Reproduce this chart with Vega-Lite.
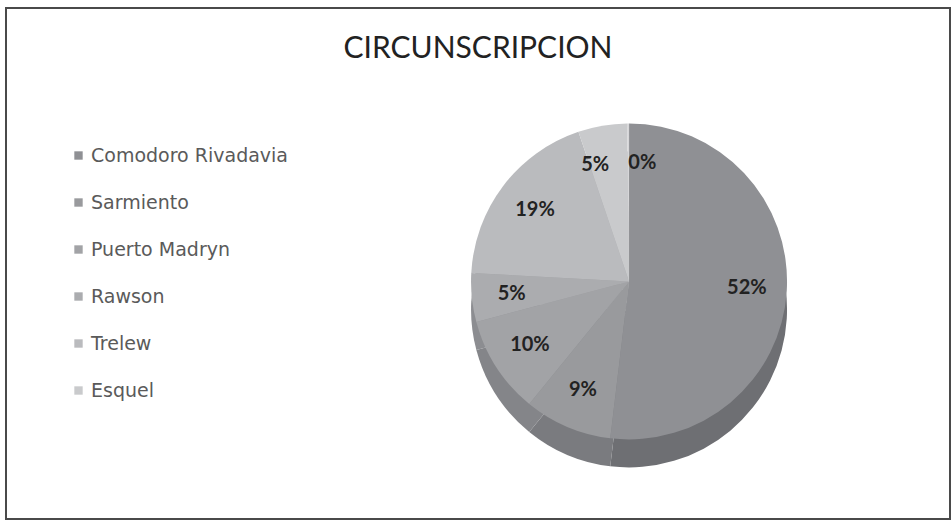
{
  "$schema": "https://vega.github.io/schema/vega-lite/v6.json",
  "width": 952,
  "height": 525,
  "autosize": {"type": "fit", "contains": "padding"},
  "padding": {"top": 8, "left": 6, "right": 2, "bottom": 6},
  "background": "white",
  "view": {"stroke": "#4a4a4a", "strokeWidth": 2, "fill": "white"},
  "title": {
    "text": "CIRCUNSCRIPCION",
    "anchor": "middle",
    "offset": -56,
    "fontSize": 30,
    "font": "Lato",
    "fontWeight": "normal",
    "color": "#222222"
  },
  "data": {
    "values": [
      {"circunscripcion": "Comodoro Rivadavia", "pct": 52, "label": "52%", "orden": 1},
      {"circunscripcion": "Sarmiento", "pct": 9, "label": "9%", "orden": 2},
      {"circunscripcion": "Puerto Madryn", "pct": 10, "label": "10%", "orden": 3},
      {"circunscripcion": "Rawson", "pct": 5, "label": "5%", "orden": 4},
      {"circunscripcion": "Trelew", "pct": 19, "label": "19%", "orden": 5},
      {"circunscripcion": "Esquel", "pct": 5, "label": "5%", "orden": 6},
      {"circunscripcion": "Otros", "pct": 0.2, "label": "0%", "orden": 7}
    ]
  },
  "encoding": {
    "theta": {"field": "pct", "type": "quantitative", "stack": true},
    "order": {"field": "orden", "type": "quantitative"}
  },
  "layer": [
    {
      "mark": {"type": "arc", "outerRadius": 158, "x": {"expr": "width*0.66"}, "y": {"expr": "height*0.535 + 28"}},
      "encoding": {
        "color": {
          "field": "circunscripcion",
          "type": "nominal",
          "sort": ["Comodoro Rivadavia", "Sarmiento", "Puerto Madryn", "Rawson", "Trelew", "Esquel", "Otros"],
          "scale": {"range": ["#6e6f73", "#7a7b7f", "#848589", "#8c8d91", "#96979a", "#a3a4a7", "#aeafb2"]},
          "legend": null
        }
      }
    },
    {
      "mark": {"type": "arc", "outerRadius": 158, "x": {"expr": "width*0.66"}, "y": {"expr": "height*0.535"}},
      "encoding": {
        "color": {
          "field": "circunscripcion",
          "type": "nominal",
          "sort": ["Comodoro Rivadavia", "Sarmiento", "Puerto Madryn", "Rawson", "Trelew", "Esquel", "Otros"],
          "scale": {"range": ["#8f9094", "#999a9d", "#a2a3a6", "#abacaf", "#babbbe", "#c9cacc", "#d6d6d8"]},
          "legend": {
            "orient": "none",
            "legendX": 63,
            "legendY": 138,
            "title": null,
            "values": ["Comodoro Rivadavia", "Sarmiento", "Puerto Madryn", "Rawson", "Trelew", "Esquel"],
            "symbolType": "square",
            "symbolSize": 70,
            "symbolStrokeWidth": 0,
            "labelFontSize": 19,
            "labelFont": "DejaVu Sans",
            "labelColor": "#5a5a5a",
            "labelLimit": 400,
            "rowPadding": 27,
            "labelOffset": 3
          }
        }
      }
    },
    {
      "mark": {
        "type": "text",
        "radius": 118,
        "x": {"expr": "width*0.66"},
        "y": {"expr": "height*0.535"},
        "align": {"expr": "datum.orden == 7 ? 'left' : datum.orden == 6 ? 'right' : 'center'"},
        "font": "Lato",
        "fontWeight": "bold",
        "fontSize": 20,
        "color": "#222222"
      },
      "encoding": {"text": {"field": "label", "type": "nominal"}}
    }
  ],
  "resolve": {"scale": {"color": "independent"}}
}
